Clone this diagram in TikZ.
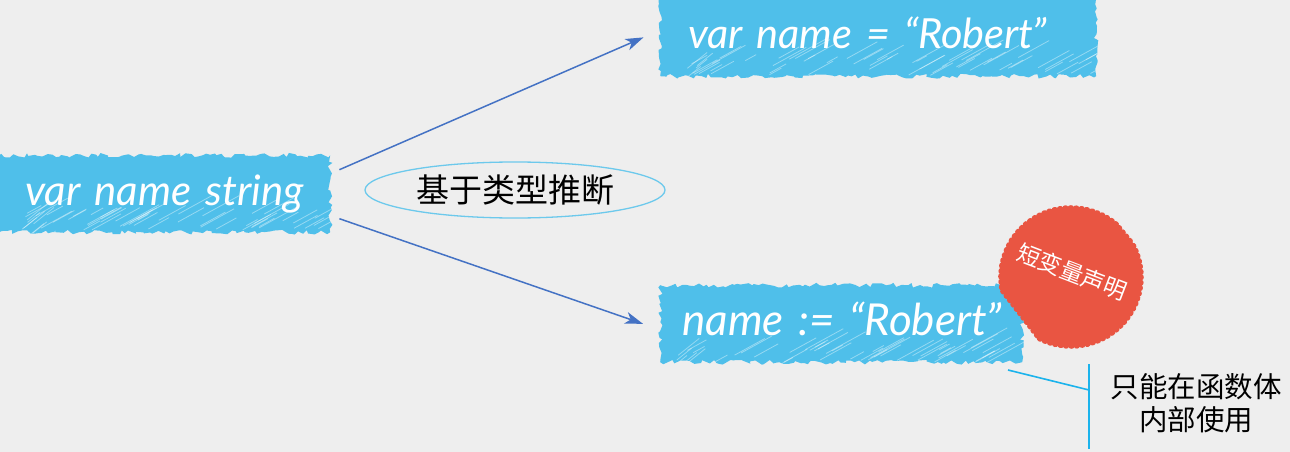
\documentclass[tikz,border=0pt]{standalone}
\usepackage{fontspec}
\setmainfont{Lato}
\newfontfamily\cjk{Noto Sans CJK SC}
\usetikzlibrary{arrows.meta,decorations.pathmorphing,shapes.geometric,calc}
\definecolor{bgc}{HTML}{EEEEEE}
\definecolor{boxc}{HTML}{4FBFEA}
\definecolor{redc}{HTML}{E95542}
\definecolor{arrowc}{HTML}{4472C4}
\definecolor{callc}{HTML}{1BB3EC}
\definecolor{ringc}{HTML}{6CC9EC}
\newcommand{\hatches}[3]{% width, height, seed
  \pgfmathsetseed{#3}%
  \begin{scope}[shift={(path picture bounding box.north west)},draw=white,opacity=.4,line width=.8pt]
    \foreach \i in {1,...,120}{
      \pgfmathsetmacro{\hx}{rnd*#1}
      \pgfmathsetmacro{\band}{rnd}
      \pgfmathsetmacro{\hy}{\band<0.6 ? #2-rnd*20 : 2+rnd*18}
      \pgfmathsetmacro{\hl}{10+rnd*30}
      \draw (\hx,\hy) -- ++(\hl,-0.55*\hl);
    }
    \foreach \i in {1,...,36}{
      \pgfmathsetmacro{\hx}{rnd<0.5 ? rnd*16-6 : #1-rnd*20}
      \pgfmathsetmacro{\hy}{rnd*#2+6}
      \pgfmathsetmacro{\hl}{8+rnd*14}
      \draw (\hx,\hy) -- ++(\hl,-0.8*\hl);
    }
  \end{scope}}
\tikzset{
  rough/.style={fill=boxc,decorate,decoration={random steps,segment length=4pt,amplitude=2.4pt}},
  codebox/.style={rough,rectangle,anchor=north west,text=white,align=left,inner ysep=0pt,inner xsep=#1},
  link/.style={draw=arrowc,line width=1.5pt,-{Stealth[length=18pt,width=12pt,inset=5pt]},shorten >=18pt},
  callout/.style={draw=callc,line width=1.6pt},
  notetext/.style={font=\cjk\fontsize{28.5pt}{33pt}\selectfont,text=black,align=center,inner sep=0pt}
}
\begin{document}
\begin{tikzpicture}[x=1pt,y=-1pt]
\useasboundingbox[fill=bgc] (0,0) rectangle (1290,452);
\clip (0,0) rectangle (1290,452);
\node[codebox=31pt,text width=274pt,minimum height=77pt,font=\fontsize{42pt}{42pt}\selectfont\itshape,
  path picture={\hatches{336}{77}{11}}] (box1) at (-6,155) {\raisebox{6pt}{var name string}};
\node[codebox=28pt,text width=380pt,minimum height=80pt,font=\fontsize{41.5pt}{42pt}\selectfont\itshape,
  path picture={\hatches{436}{80}{23}}] (box2) at (660,-4) {\raisebox{7pt}{var name = “Robert”}};
\node[codebox=22pt,text width=318pt,minimum height=77pt,font=\fontsize{44pt}{44pt}\selectfont\itshape,
  path picture={\hatches{362}{77}{37}}] (box3) at (660,285) {\raisebox{9pt}{name := “Robert”}};
\draw[link] ($(box1.east)+(9,-24)$) -- ($(box2.west)+(0,-6)$);
\draw[link] ($(box1.east)+(9,25)$) -- ($(box3.west)+(0,6)$);
\node[ellipse,draw=ringc,line width=1.3pt,minimum width=300pt,minimum height=56pt,inner sep=0pt,
  font=\cjk\fontsize{33pt}{33pt}\selectfont,text=black] (basis) at (515,190) {基于类型推断};
\fill[redc,decorate,decoration={bumps,segment length=11pt,amplitude=1.8pt}]
  plot[domain=-29:117,samples=50] ({1071+71*cos(\x)},{277+70*sin(\x)})
  -- (1003,293)
  -- plot[domain=167:310,samples=50] ({1071+71*cos(\x)},{277+70*sin(\x)})
  -- cycle;
\node[rotate=-21,text=white,inner sep=0pt,font=\cjk\fontsize{23pt}{23pt}\selectfont] (badgetext) at (1072,272) {短变量声明};
\node[notetext] (note) at (1196,403) {只能在函数体\\内部使用};
\coordinate (barTop) at (1089,364);
\coordinate (barBot) at (1089,449);
\coordinate (barMid) at (1089,390);
\coordinate (tickEnd) at (1008,370);
\draw[callout] (barTop) -- (barBot);
\draw[callout] (tickEnd) -- (barMid);
\end{tikzpicture}
\end{document}
